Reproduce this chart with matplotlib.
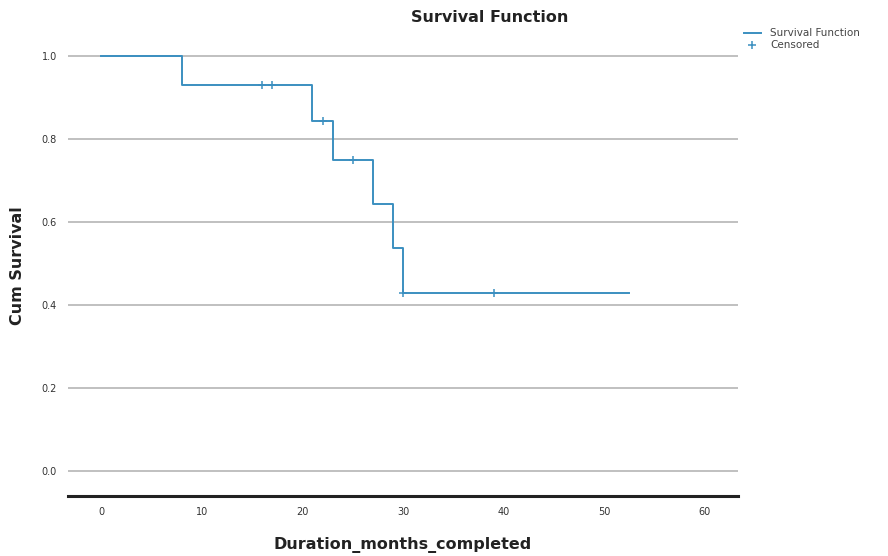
import numpy as np
import matplotlib
matplotlib.use("Agg")
import matplotlib.pyplot as plt

# survival steps (time in months, cumulative survival)
step_times = [0, 8, 21, 23, 27, 29, 30, 52.5]
step_surv = [1.0, 0.929, 0.844, 0.750, 0.643, 0.536, 0.429, 0.429]

# censored observations
cens_times = [16, 17, 22, 25, 30, 39]
cens_surv = [0.929, 0.929, 0.844, 0.750, 0.429, 0.429]

x_ticks = [0, 10, 20, 30, 40, 50, 60]
y_ticks = [0.0, 0.2, 0.4, 0.6, 0.8, 1.0]

line_color = "#3b8fc0"

fig = plt.figure(figsize=(8.88, 5.56), dpi=100)
ax = fig.add_axes([0.0766, 0.108, 0.7545, 0.829])

ax.step(step_times, step_surv, where="post", color=line_color, lw=1.4,
        label="Survival Function")
ax.plot(cens_times, cens_surv, ls="none", marker="+", ms=6, mew=1.1,
        color=line_color, label="Censored")

ax.set_xlim(-3.3, 63.3)
ax.set_ylim(-0.06, 1.05)
ax.set_xticks(x_ticks)
ax.set_yticks(y_ticks)
ax.set_xticklabels([str(t) for t in x_ticks])
ax.set_yticklabels(["%.1f" % t for t in y_ticks])
ax.tick_params(length=0, labelsize=7, colors="#333333", pad=8)

ax.grid(axis="y", color="#b5b5b5", lw=1.2)
ax.set_axisbelow(True)
for s in ["left", "right", "top"]:
    ax.spines[s].set_visible(False)
ax.spines["bottom"].set_color("#222222")
ax.spines["bottom"].set_linewidth(2.2)

fig.text(0.551, 0.968, "Survival Function", fontsize=11.5, fontweight="bold",
         ha="center", va="center", color="#222222")
ax.set_xlabel("Duration_months_completed", fontsize=11.5, fontweight="bold",
              labelpad=14, color="#222222")
ax.set_ylabel("Cum Survival", fontsize=11.5, fontweight="bold",
              labelpad=12, color="#222222")

leg = ax.legend(loc="upper left", bbox_to_anchor=(0.995, 1.035), frameon=False,
                fontsize=7.5, handlelength=1.6, handletextpad=0.9,
                labelspacing=0.2)
for t in leg.get_texts():
    t.set_color("#444444")

fig.savefig("out.png", dpi=100)
